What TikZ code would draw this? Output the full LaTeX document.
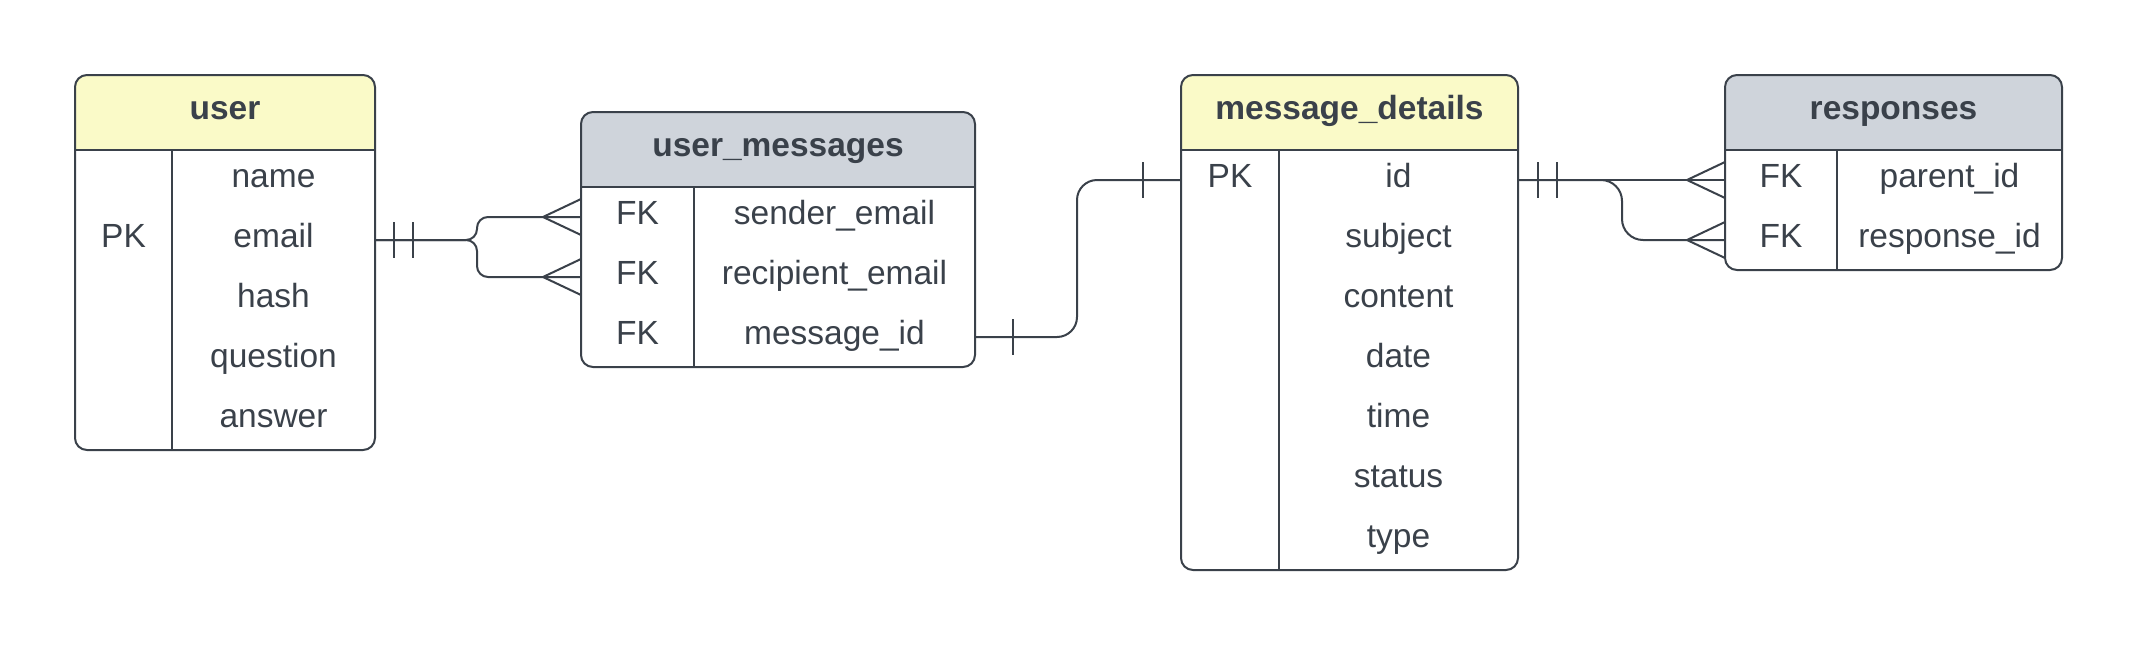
\documentclass[tikz,border=0pt]{standalone}
\usepackage{fontspec}
\setmainfont{Liberation Sans}
\usetikzlibrary{calc}
\definecolor{ink}{HTML}{3A414A}
\definecolor{hdyellow}{HTML}{FAFAC8}
\definecolor{hdgray}{HTML}{CFD4DB}
\tikzset{
 tbl/.style={draw=ink, line width=2pt, rounded corners=12pt, inner sep=0pt, outer sep=0pt},
 cell/.style={inner sep=0pt, outer sep=0pt, text height=20pt, text depth=6pt, minimum height=60pt, text=ink, font=\fontsize{33.5}{40}\selectfont},
 hd/.style={cell, font=\bfseries\fontsize{33.5}{40}\selectfont, minimum height=75pt},
 sep/.style={draw=ink, line width=1.5pt},
 conn/.style={draw=ink, line width=2pt},
 thinconn/.style={draw=ink, line width=1.2pt},
}
\newcommand\erBar[2]{\draw[conn] ($(#1)+(#2,-18)$) -- ($(#1)+(#2,18)$);}
\newcommand\erCrow[1]{\draw[conn] ($(#1)+(0,-18)$) -- ($(#1)+(-38,0)$) -- ($(#1)+(0,18)$);}
\begin{document}
\begin{tikzpicture}[x=1pt,y=-1pt]
\useasboundingbox (0,0) rectangle (2138,645);
% ---------- user ----------
\begin{scope}
 \clip[rounded corners=12pt] (75,75) rectangle (375,450);
 \fill[hdyellow] (75,75) rectangle (375,150);
\end{scope}
\draw[sep] (75,150) -- (375,150);
\draw[sep] (172,150) -- (172,450);
\node[tbl, minimum width=300pt, minimum height=375pt] (user) at (225,262.5) {};
\node[hd, minimum width=300pt] (userhd) at (225,112.5) {user};
\node[cell, minimum width=97pt] (upk) at (123.5,240) {PK};
\node[cell, minimum width=203pt] (uname) at (273.5,180) {name};
\node[cell, minimum width=203pt] (uemail) at (273.5,240) {email};
\node[cell, minimum width=203pt] (uhash) at (273.5,300) {hash};
\node[cell, minimum width=203pt] (uquest) at (273.5,360) {question};
\node[cell, minimum width=203pt] (uanswer) at (273.5,420) {answer};
% ---------- user_messages ----------
\begin{scope}
 \clip[rounded corners=12pt] (581,112) rectangle (975,367);
 \fill[hdgray] (581,112) rectangle (975,187);
\end{scope}
\draw[sep] (581,187) -- (975,187);
\draw[sep] (694,187) -- (694,367);
\node[tbl, minimum width=394pt, minimum height=255pt] (um) at (778,239.5) {};
\node[hd, minimum width=394pt] (umhd) at (778,149.5) {user\_messages};
\node[cell, minimum width=113pt] (umfk1) at (637.5,217) {FK};
\node[cell, minimum width=113pt] (umfk2) at (637.5,277) {FK};
\node[cell, minimum width=113pt] (umfk3) at (637.5,337) {FK};
\node[cell, minimum width=281pt] (umsend) at (834.5,217) {sender\_email};
\node[cell, minimum width=281pt] (umrecip) at (834.5,277) {recipient\_email};
\node[cell, minimum width=281pt] (ummsg) at (834.5,337) {message\_id};
% ---------- message_details ----------
\begin{scope}
 \clip[rounded corners=12pt] (1181,75) rectangle (1518,570);
 \fill[hdyellow] (1181,75) rectangle (1518,150);
\end{scope}
\draw[sep] (1181,150) -- (1518,150);
\draw[sep] (1279,150) -- (1279,570);
\node[tbl, minimum width=337pt, minimum height=495pt] (md) at (1349.5,322.5) {};
\node[hd, minimum width=337pt] (mdhd) at (1349.5,112.5) {message\_details};
\node[cell, minimum width=98pt] (mdpk) at (1230,180) {PK};
\node[cell, minimum width=239pt] (mdid) at (1398.5,180) {id};
\node[cell, minimum width=239pt] (mdsubj) at (1398.5,240) {subject};
\node[cell, minimum width=239pt] (mdcont) at (1398.5,300) {content};
\node[cell, minimum width=239pt] (mddate) at (1398.5,360) {date};
\node[cell, minimum width=239pt] (mdtime) at (1398.5,420) {time};
\node[cell, minimum width=239pt] (mdstat) at (1398.5,480) {status};
\node[cell, minimum width=239pt] (mdtype) at (1398.5,540) {type};
% ---------- responses ----------
\begin{scope}
 \clip[rounded corners=12pt] (1725,75) rectangle (2062,270);
 \fill[hdgray] (1725,75) rectangle (2062,150);
\end{scope}
\draw[sep] (1725,150) -- (2062,150);
\draw[sep] (1837,150) -- (1837,270);
\node[tbl, minimum width=337pt, minimum height=195pt] (rs) at (1893.5,172.5) {};
\node[hd, minimum width=337pt] (rshd) at (1893.5,112.5) {responses};
\node[cell, minimum width=112pt] (rsfk1) at (1781,180) {FK};
\node[cell, minimum width=112pt] (rsfk2) at (1781,240) {FK};
\node[cell, minimum width=225pt] (rspar) at (1949.5,180) {parent\_id};
\node[cell, minimum width=225pt] (rsresp) at (1949.5,240) {response\_id};
% ---------- connectors ----------
\draw[conn, rounded corners=11pt] (uemail.east) -- ++(102,0) |- (umfk1.west);
\draw[conn, rounded corners=11pt] (uemail.east) -- ++(102,0) |- (umfk2.west);
\erBar{uemail.east}{19}
\erBar{uemail.east}{38}
\erCrow{umfk1.west}
\erCrow{umfk2.west}
\draw[conn, rounded corners=20pt] (ummsg.east) -- ++(102,0) |- (mdpk.west);
\erBar{ummsg.east}{38}
\erBar{mdpk.west}{-38}
\draw[thinconn] (mdid.east) -- (rsfk1.west);
\draw[conn, rounded corners=21pt] (mdid.east) -- ++(104,0) |- (rsfk2.west);
\erBar{mdid.east}{20}
\erBar{mdid.east}{39}
\erCrow{rsfk1.west}
\erCrow{rsfk2.west}
\end{tikzpicture}
\end{document}
